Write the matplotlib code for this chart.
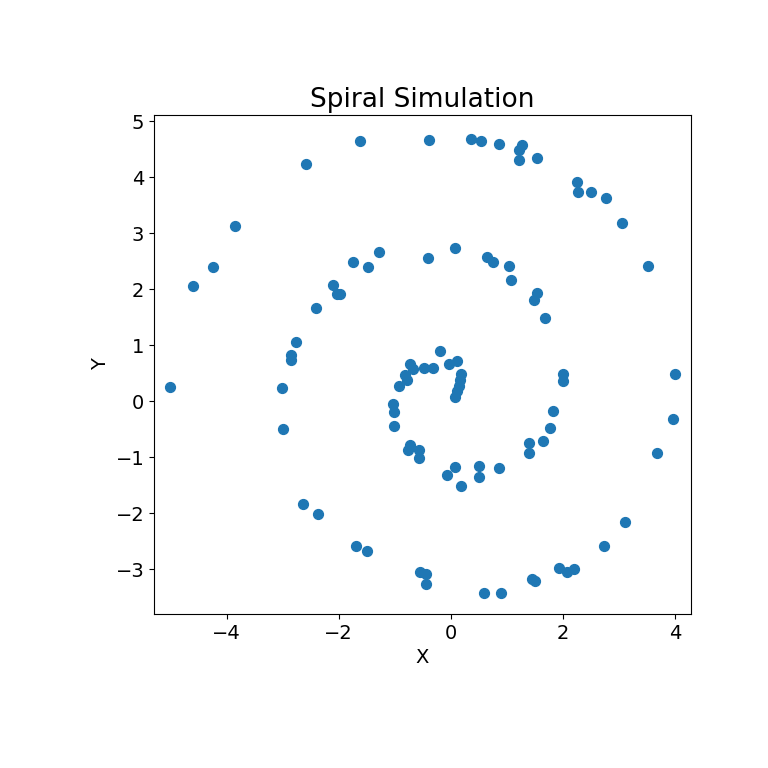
import matplotlib
matplotlib.use("Agg")
import matplotlib.pyplot as plt

x_vals = [-4.61, -4.24, -3.86, -2.58, -1.62, -0.39, 0.36, 0.54, 0.86, 1.27,
          1.21, 1.22, 1.54, 2.26, 2.28, 2.51, 2.78, 3.06, 3.52, 4.01,
          3.96, 3.68, 3.12, 2.74, 1.94, 2.08, 2.20, 1.45, 1.51, 0.90,
          0.60, -0.44, -0.55, -0.45, -1.49, -1.70, -2.38, -2.64, -2.99, -3.01,
          -5.01,
          -2.86, -2.86, -2.76, -2.40, -2.04, -1.98, -2.10, -1.74, -1.47, -1.28,
          -0.41, 0.08, 0.65, 0.76, 1.04, 1.08, 1.54, 1.49, 1.69, 2.01,
          2.01, 1.83, 1.78, 1.65, 1.40, 1.40, 0.86, 0.51, 0.51, 0.18,
          0.07, -0.06, -0.56, -0.56, -0.73, -0.77, -1.02, -1.02, -1.04, -0.92,
          -0.79, -0.81, -0.73, -0.67, -0.47, -0.31, -0.20, -0.03, 0.12, 0.18,
          0.17, 0.14, 0.11, 0.08]
y_vals = [2.05, 2.40, 3.12, 4.23, 4.64, 4.67, 4.69, 4.64, 4.60, 4.57,
          4.49, 4.30, 4.35, 3.91, 3.73, 3.73, 3.62, 3.19, 2.41, 0.48,
          -0.31, -0.93, -2.15, -2.58, -2.97, -3.05, -2.99, -3.17, -3.21, -3.42,
          -3.42, -3.08, -3.05, -3.26, -2.67, -2.58, -2.01, -1.83, -0.49, 0.23,
          0.26,
          0.82, 0.73, 1.05, 1.66, 1.91, 1.92, 2.08, 2.49, 2.39, 2.66,
          2.55, 2.73, 2.58, 2.48, 2.41, 2.17, 1.93, 1.80, 1.49, 0.49,
          0.36, -0.17, -0.47, -0.71, -0.74, -0.93, -1.20, -1.16, -1.36, -1.52,
          -1.18, -1.32, -0.88, -1.01, -0.79, -0.88, -0.44, -0.20, -0.05, 0.27,
          0.37, 0.46, 0.67, 0.58, 0.60, 0.60, 0.89, 0.66, 0.71, 0.49,
          0.37, 0.27, 0.18, 0.08]

title = "Spiral Simulation"
xlabel = "X"
ylabel = "Y"

fig = plt.figure(figsize=(7.68, 7.68), dpi=100)
ax = fig.add_axes([154/768, 1 - 614/768, 537/768, 499/768])
ax.scatter(x_vals, y_vals, s=50, color="#1f77b4")
ax.set_xlim(-5.30, 4.29)
ax.set_ylim(-3.80, 5.11)
ax.set_title(title, fontsize=19)
ax.set_xlabel(xlabel, fontsize=14)
ax.set_ylabel(ylabel, fontsize=14)
ax.tick_params(labelsize=14)
fig.savefig("out.png", dpi=100)
